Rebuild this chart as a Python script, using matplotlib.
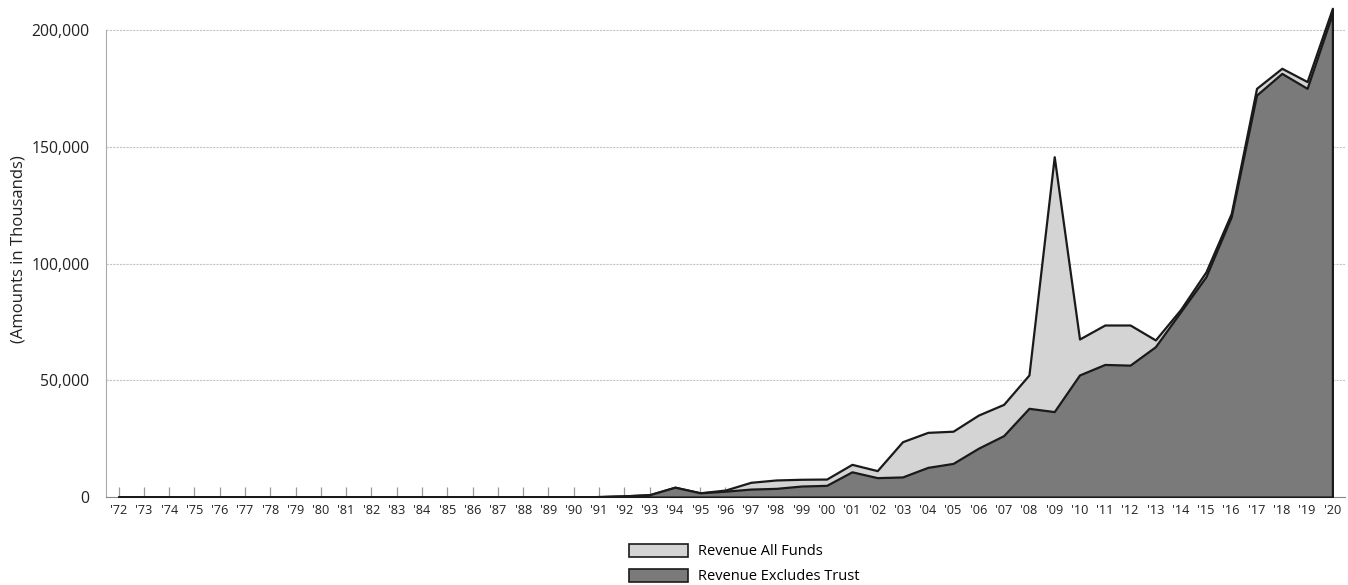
import numpy as np
import matplotlib.pyplot as plt
from matplotlib.patches import Patch

years = ["'72", "'73", "'74", "'75", "'76", "'77", "'78", "'79", "'80", "'81", "'82", "'83",
         "'84", "'85", "'86", "'87", "'88", "'89", "'90", "'91", "'92", "'93", "'94", "'95",
         "'96", "'97", "'98", "'99", "'00", "'01", "'02", "'03", "'04", "'05", "'06", "'07",
         "'08", "'09", "'10", "'11", "'12", "'13", "'14", "'15", "'16", "'17", "'18", "'19", "'20"]

# thousands of dollars
all_funds = [0, 0, 0, 0, 0, 0, 0, 0, 0, 0, 0, 0,
             0, 0, 0, 0, 0, 0, 0, 200, 500, 1000, 4200, 1800,
             3000, 6300, 7300, 7600, 7700, 14000, 11300, 23700, 27700, 28200, 35100, 39700,
             52300, 145800, 67700, 73700, 73700, 67300, 80400, 96500, 121500, 175100, 183700, 178000, 209400]
excl_trust = [0, 0, 0, 0, 0, 0, 0, 0, 0, 0, 0, 0,
              0, 0, 0, 0, 0, 0, 0, 200, 500, 1000, 4200, 1800,
              2500, 3400, 3700, 4700, 5000, 10800, 8300, 8600, 12700, 14400, 20900, 26300,
              38000, 36600, 52300, 56800, 56500, 64400, 79400, 94400, 120100, 172200, 181500, 175100, 207200]

plt.rcParams['font.family'] = ['Open Sans', 'DejaVu Sans']

fig = plt.figure(figsize=(13.48, 5.85), dpi=100)
ax = fig.add_axes([0.0786, 0.1504, 0.9192, 0.8458])

x = np.arange(len(years))
ax.fill_between(x, all_funds, color='#d4d4d4', edgecolor='#1a1a1a', linewidth=1.6, zorder=2)
ax.fill_between(x, excl_trust, color='#7a7a7a', edgecolor='#1a1a1a', linewidth=1.6, zorder=3)

ax.set_xlim(-0.5, len(years) - 0.5)
ax.set_ylim(0, 212000)
ax.set_yticks([0, 50000, 100000, 150000, 200000])
ax.set_yticklabels(['0', '50,000', '100,000', '150,000', '200,000'], fontsize=11.3, color='#222')
ax.set_xticks(x)
ax.set_xticklabels(years, fontsize=9.2, color='#222')
ax.tick_params(axis='x', direction='in', length=7, width=0.9, color='#999', pad=5)
ax.tick_params(axis='y', length=0, pad=12)

ax.grid(axis='y', color='#c4c4c4', linewidth=0.8, linestyle=(0, (2, 1)), zorder=0)
ax.set_axisbelow(True)
for s in ['top', 'right']:
    ax.spines[s].set_visible(False)
ax.spines['left'].set_color('#aaaaaa')
ax.spines['left'].set_linewidth(0.8)
ax.spines['left'].set_bounds(0, 200000)
ax.spines['bottom'].set_color('#888888')
ax.spines['bottom'].set_linewidth(0.8)

ax.set_ylabel('(Amounts in Thousands)', fontsize=12, color='#222', labelpad=3)

handles = [Patch(facecolor='#d4d4d4', edgecolor='#1a1a1a', linewidth=1.2),
           Patch(facecolor='#7a7a7a', edgecolor='#1a1a1a', linewidth=1.2)]
fig.legend(handles, ['Revenue All Funds', 'Revenue Excludes Trust'],
           loc='upper left', bbox_to_anchor=(0.4614, 0.083), frameon=False,
           fontsize=10.5, borderpad=0, handlelength=4.0, handleheight=1.0,
           labelspacing=0.65, handletextpad=0.7)

fig.savefig('out.png', dpi=100)
